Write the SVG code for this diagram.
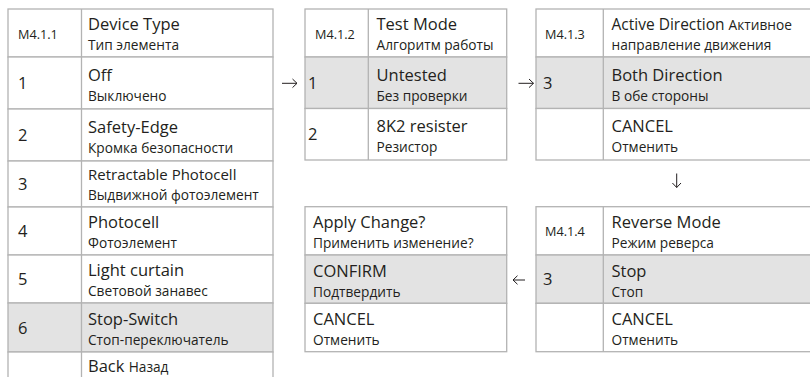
<svg xmlns="http://www.w3.org/2000/svg" width="810" height="377" viewBox="0 0 810 377">
<style>
.c{fill:#fff;stroke:#b3b3b3;stroke-width:1.3}
.s{fill:#e3e3e3;stroke:#b3b3b3;stroke-width:1.3}
.l{stroke:#b3b3b3;stroke-width:1.3}
text{font-family:"Open Sans","Noto Sans",sans-serif;fill:#231f20}
.m{font-size:16.5px}
.sub{font-size:13.7px}
.id{font-size:12.7px}
.n{font-size:16.5px}
.sm{font-size:15px}
.a{fill:none;stroke:#231f20;stroke-width:1}
</style>
<rect width="810" height="377" fill="#fff"/>

<g id="table-m411">
<rect class="c" x="8" y="9" width="265" height="48"/>
<rect class="c" x="8" y="57" width="265" height="52"/>
<rect class="c" x="8" y="109" width="265" height="52"/>
<rect class="c" x="8" y="161" width="265" height="46"/>
<rect class="c" x="8" y="207" width="265" height="48"/>
<rect class="c" x="8" y="255" width="265" height="48"/>
<rect class="s" x="8" y="303" width="265" height="49"/>
<rect class="c" x="8" y="352" width="265" height="50"/>
<line class="l" x1="81.5" y1="9" x2="81.5" y2="402"/>
<text class="id" x="18" y="38.5">M4.1.1</text>
<text class="m" x="88" y="30">Device Type</text>
<text class="sub" x="88" y="50">Тип элемента</text>
<text class="n" x="18" y="89">1</text>
<text class="m" x="88" y="80.5">Off</text>
<text class="sub" x="88" y="100.5">Выключено</text>
<text class="n" x="18" y="141">2</text>
<text class="m" x="88" y="132.5">Safety-Edge</text>
<text class="sub" x="88" y="152.5">Кромка безопасности</text>
<text class="n" x="18" y="190">3</text>
<text class="sm" x="88" y="180">Retractable Photocell</text>
<text class="sub" x="88" y="199.5">Выдвижной фотоэлемент</text>
<text class="n" x="18" y="237">4</text>
<text class="m" x="88" y="228">Photocell</text>
<text class="sub" x="88" y="248">Фотоэлемент</text>
<text class="n" x="18" y="285">5</text>
<text class="m" x="88" y="276">Light curtain</text>
<text class="sub" x="88" y="296">Световой занавес</text>
<text class="n" x="18" y="334">6</text>
<text class="m" x="88" y="324.5">Stop-Switch</text>
<text class="sub" x="88" y="344.5">Стоп-переключатель</text>
<text class="m" x="88" y="372">Back <tspan class="sub">Назад</tspan></text>
</g>

<g id="table-m412">
<rect class="c" x="305" y="9" width="201.7" height="48"/>
<rect class="s" x="305" y="57" width="201.7" height="51.5"/>
<rect class="c" x="305" y="108.5" width="201.7" height="51.5"/>
<line class="l" x1="368.3" y1="9" x2="368.3" y2="160"/>
<text class="id" x="315" y="38.5">M4.1.2</text>
<text class="m" x="376.5" y="30">Test Mode</text>
<text class="sub" x="376.5" y="50">Алгоритм работы</text>
<text class="n" x="308" y="89">1</text>
<text class="m" x="376.5" y="80.5">Untested</text>
<text class="sub" x="376.5" y="100.5">Без проверки</text>
<text class="n" x="308" y="140">2</text>
<text class="m" x="376.5" y="132">8K2 resister</text>
<text class="sub" x="376.5" y="152">Резистор</text>
</g>

<g id="table-m413">
<rect class="c" x="536" y="9" width="290" height="48"/>
<rect class="s" x="536" y="57" width="290" height="51.5"/>
<rect class="c" x="536" y="108.5" width="290" height="51.5"/>
<line class="l" x1="603.3" y1="9" x2="603.3" y2="160"/>
<text class="id" x="545" y="38.5">M4.1.3</text>
<text class="m" x="611.5" y="30" style="font-size:15.5px">Active Direction <tspan class="sub">Активное</tspan></text>
<text class="sub" x="611.5" y="50">направление движения</text>
<text class="n" x="543" y="89">3</text>
<text class="m" x="611.5" y="80.5">Both Direction</text>
<text class="sub" x="611.5" y="100.5">В обе стороны</text>
<text class="m" x="611.5" y="132">CANCEL</text>
<text class="sub" x="611.5" y="152">Отменить</text>
</g>

<g id="table-m414">
<rect class="c" x="536" y="206.7" width="290" height="48.3"/>
<rect class="s" x="536" y="255" width="290" height="48.3"/>
<rect class="c" x="536" y="303.3" width="290" height="48.4"/>
<line class="l" x1="603.3" y1="206.7" x2="603.3" y2="351.7"/>
<text class="id" x="545" y="235.5">M4.1.4</text>
<text class="m" x="611.5" y="228">Reverse Mode</text>
<text class="sub" x="611.5" y="248">Режим реверса</text>
<text class="n" x="543" y="285">3</text>
<text class="m" x="611.5" y="276.5">Stop</text>
<text class="sub" x="611.5" y="296.5">Стоп</text>
<text class="m" x="611.5" y="324.5">CANCEL</text>
<text class="sub" x="611.5" y="344.5">Отменить</text>
</g>

<g id="table-apply">
<rect class="c" x="305" y="206.7" width="201.7" height="48.3"/>
<rect class="s" x="305" y="255" width="201.7" height="48.3"/>
<rect class="c" x="305" y="303.3" width="201.7" height="48.4"/>
<text class="m" x="313" y="228">Apply Change?</text>
<text class="sub" x="313" y="248">Применить изменение?</text>
<text class="m" x="313" y="276.5">CONFIRM</text>
<text class="sub" x="313" y="296.5">Подтвердить</text>
<text class="m" x="313" y="324.5">CANCEL</text>
<text class="sub" x="313" y="344.5">Отменить</text>
</g>

<g id="connectors">
<path class="a" d="M282,83.3 H297 M292.5,79 L297,83.3 L292.5,87.6"/>
<path class="a" d="M518.5,83.3 H533.5 M529,79 L533.5,83.3 L529,87.6"/>
<path class="a" d="M676.7,173.5 V187.5 M672.4,183 L676.7,187.5 L681,183"/>
<path class="a" d="M525,280 H513 M517.5,275.7 L513,280 L517.5,284.3"/>
</g>
</svg>
